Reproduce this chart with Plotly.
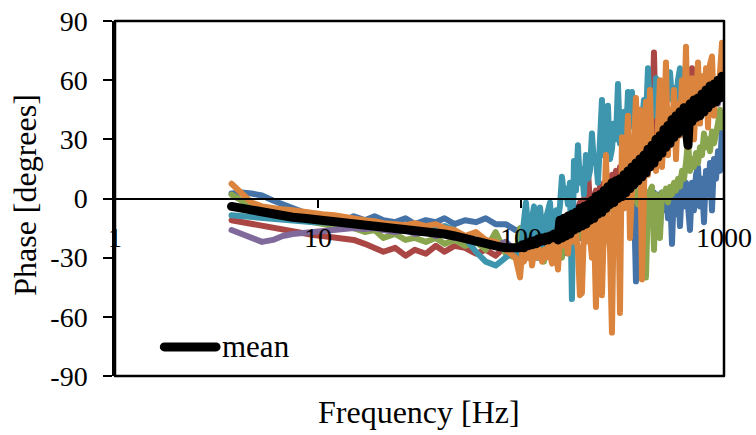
import plotly.graph_objects as go

# Measurement frequencies [Hz]
freq_hz = [3.75, 4.2, 4.7, 5.3, 6, 6.7, 7.5, 8.5, 9.5, 10.5, 12, 13.5, 15, 17, 19, 21, 24, 27, 30, 34,
           38, 42, 47, 53, 60, 67, 75, 84, 94,
           98.9, 101.1, 103.5, 105.8, 108.3, 110.8, 113.3, 115.9, 118.6, 121.3, 124.1, 126.9, 129.8,
           132.8, 135.9, 139.0, 142.2, 145.4, 148.8,
           152.2, 155.5, 159.1, 162.7, 166.4, 170.3, 174.2, 178.2, 182.3, 186.5, 190.7, 195.1, 199.6,
           204.2, 208.9, 213.7, 218.6, 223.6, 228.7, 234.0, 239.4, 244.9, 250.5, 256.2, 262.1, 268.1,
           274.3, 280.6, 287.0, 293.6, 300.4, 307.3, 314.3, 321.5, 328.9, 336.5, 344.2, 352.1, 360.2,
           368.4, 376.9, 385.5, 394.4, 403.4, 412.7, 422.2, 431.9, 441.8, 451.9, 462.3, 472.9, 483.7,
           494.8, 506.2, 517.8, 529.7, 541.9, 554.3, 567.0, 580.0, 593.4, 607.0, 620.9, 635.2, 649.8,
           664.7, 680.0, 695.6, 711.5, 727.9, 744.6, 761.7, 779.1, 797.0, 815.3, 834.0, 853.2, 872.8,
           892.8, 913.3, 934.3, 955.7, 977.7, 1000]

# Phase of each individual run [degrees]
phase_run1 = [2.5, 3, 2.5, 1.5, -1, -3, -5, -7, -8, -9, -10, -11, -9, -11, -9, -11, -12, -10, -13, -11,
              -12, -10, -13, -11, -12, -10, -13, -13, -16,
              -16, -18, -20, -17, -21, -19, -22, -18, -20, -23, -19, -21, -24, -20, -22, -25, -21, -23, -24,
              -25, -30, -22, -28, -20, -26, -18, -24, -16, -22,
              -14, -20, -12, -18, -10, -16, -8, -14, -6, -12,
              -5, -10, -3, -8, -2, -6, -1, -5, 0, -4,
              1, -3, 2, -2, 2, -4, 1, -3, 0, -42,
              -2, -8, 0, -10, 1, -6, 2, -12, 3, -8,
              2, -15, 3, -6, 4, -10, 5, -23, 5, -8,
              6, -14, 6, -4, 8, -10, -16, 8, -6, 12,
              16, -4, 10, -12, 14, 2, 18, -6, 20, 10,
              24, 14, 36, 30]

phase_run2 = [-11, -12, -12.5, -13.5, -15, -16, -17, -18, -18.5, -19, -19.5, -20, -21, -23, -25, -27,
              -25, -29, -26, -28, -24, -27, -24, -25, -28, -26, -29, -24, -27,
              -27, -24, -28, -22, -26, -20, -25, -22, -24, -18, -23, -20, -22, -16, -21, -18, -20, -15, -19,
              -18, -12, -20, -10, -16, -8, -14, -6, -12, -4,
              -10, -2, -8, 0, -6, 15, -4, 2, -6, 4,
              -2, 6, 0, 8, 2, 10, 4, 12, 6, 14,
              8, 16, 10, 18, 12, 20, 14, 22, 16, 24,
              18, 26, 20, 28, 22, 30, 24, 32, 74, 30,
              34, 28, 36, 30, 38, 32, 40, 34, 42, 36,
              44, 38, 46, 40, 48, 42, 50, 66, 48, 52,
              46, 54, 48, 55, 50, 56, 52, 58, 54, 58,
              56, 60, 58, 58]

phase_run3 = [2, -1, -4, -6, -8, -9, -10, -11, -12, -13, -14, -15, -15, -17, -16, -20, -18, -21, -20,
              -22, -20, -23, -21, -24, -22, -26, -17, -28, -30,
              -15, -24, -28, -22, -30, -25, -20, -28, -24, -30, -22, -26, -32, -24, -28, -22, -30, -26, -28,
              -28, -22, -30, -20, -26, -18, -24, -16, -22, -14,
              -20, -12, -18, -10, -16, -8, -14, -6, -12, -4,
              -10, -3, -9, -2, -8, 0, -6, 1, -5, 2,
              -4, 3, -3, 4, -2, 4, -2, 5, -1, 4,
              -3, 3, -6, 2, -40, 0, 4, 6, -26, 2,
              -4, -20, 3, 0, 5, -2, 6, 2, 8, 4,
              10, 6, 14, 10, 18, 29, 14, 20, 16, 23,
              18, 26, 22, 33, 26, 30, 24, 34, 28, 32,
              38, 45, 36, 42]

phase_run4 = [-16, -18, -20.5, -22, -21, -19, -18, -17.5, -17.5, -17, -16, -16, -15, -15.5, -15, -16,
              -17, -16, -18, -17, -19, -18, -20, -19, -22, -21, -24, -22, -26,
              -28, -24, -30, -25, -27, -23, -29, -24, -26, -22, -27, -23, -25, -21, -24, -20, -23, -19, -22,
              -20, -16, -22, -15, -19, -14, -20, -13, -17, -11,
              -16, -10, -15, -8, -13, -6, -12, -4, -10, -2,
              -9, 0, -7, 2, -5, 4, -3, 6, -1, 8,
              1, 7, 0, 9, 2, 11, 4, 13, 6, 16,
              8, 18, 11, 21, 14, 24, 16, 26, 19, 28,
              21, 30, 23, 32, 25, 34, 27, 36, 30, 39,
              33, 42, 35, 43, 37, 30, 41, 45, 39, 47,
              41, 48, 43, 50, 44, 51, 45, 52, 47, 53,
              48, 55, 51, 57]

phase_run5 = [-8.5, -9, -9.5, -10, -10.5, -11, -11, -11.5, -12, -12, -12.5, -13, -13, -14, -14, -13.5,
              -15, -14, -16, -14, -15, -14, -16, -20, -27, -32, -34, -30, -26,
              -30, -20, -8, -2, -15, -28, -10, -4, -20, -30, -4.5, -18, -26, -10, -6, -2, -22, -12, -6,
              -10, -4, 11, 2, 5, -3, 8, -51, 19, 4,
              27, 8, 15, 2, 22, 10, 14, 33, 18, 20,
              8, 25, 50, 22, 30, 47, 20, 25, 38, 30,
              58, 28, 35, 44, 30, 54, 38, 54, 36, 42,
              30, 45, 38, 50, 40, 66, 44, 50, 42, 61,
              46, 54, 44, 48, 52, 58, 64, 50, 56, 48,
              60, 66, 52, 58, 50, 56, 60, 52, 58, 54,
              62, 52, 57, 55, 60, 54, 58, 52, 60, 56,
              58, 55, 63, 61]

phase_run6 = [7.5, 3, -2, -4, -5, -5.5, -6, -7, -7.5, -8, -8.5, -9.5, -10, -11, -11.5, -12.5, -13,
              -13.5, -12.5, -14, -13, -15, -16, -19, -17, -21, -22, -26, -30,
              -40, -28, -32, -26, -30, -24, -34, -27, -30, -25, -28, -32, -26, -30, -24, -28, -33, -22, -30,
              -36, -18, -24, -12, -20, -28, -14, -22, -10, -18,
              -26, -49, -48, -16, -22, -8, -20, -30, -12, -55,
              -10, -20, -49, -5, 22, -15, -25, -68, 0, -12,
              10, -58, 31, -5, 15, 42, -20, 5, 25, 51,
              10, 45, -41, 20, 49, 12, 55, 18, 30, 14,
              40, 60, 16, 35, 69, 22, 45, 28, 55, 20,
              48, 32, 60, 38, 77, 26, 50, 61, 30, 55,
              69, 38, 62, 45, 66, 36, 68, 72, 42, 60,
              50, 64, 79, 52]

# Mean phase over all runs [degrees]
phase_mean = [-4, -5, -6, -7, -8, -9, -9.5, -10, -10.5, -11, -11.5, -12, -12.5, -13, -13.5, -14.5,
              -15, -15.5, -16, -17, -17.5, -18, -19, -20, -21.5, -23, -24, -25, -25,
              -25, -23.5, -25, -23, -24, -22, -23.5, -21.5, -23, -20.5, -22, -20, -21.5, -19.5, -21,
              -19, -20, -18, -19.5,
              -21, -11, -20, -10, -19, -9, -18, -8, -16, -7,
              -15, -5, -14, -4, -13, -3, -11, -1, -10, 1,
              -8, 2, -7, 4, -5, 6, -3, 8, -2, 9,
              0, 10, 1, 12, 3, 14, 5, 16, 7, 18,
              9, 20, 11, 22, 13, 25, 16, 27, 18, 30,
              21, 32, 23, 35, 26, 37, 28, 40, 31, 42,
              33, 44, 35, 46, 37, 27, 48, 39, 50, 41,
              51, 42, 53, 44, 55, 46, 57, 48, 58, 49,
              60, 51, 62, 55]

run_names = ["run 1", "run 2", "run 3", "run 4", "run 5", "run 6"]
run_colors = ["#4572A7", "#AA4643", "#89A54E", "#80699B", "#3D96AE", "#DB843D"]
run_values = [phase_run1, phase_run2, phase_run3, phase_run4, phase_run5, phase_run6]

x_tick_vals = [1, 10, 100, 1000]
x_tick_text = ["1", "10", "100", "1000"]
y_tick_vals = [-90, -60, -30, 0, 30, 60, 90]
y_tick_text = ["-90", "-60", "-30", "0", "30", "60", "90"]

for vals in run_values + [phase_mean]:
    assert len(vals) == len(freq_hz), (len(vals), len(freq_hz))

serif = "Liberation Serif, Times New Roman, serif"

fig = go.Figure()
for name, vals, color in zip(run_names, run_values, run_colors):
    fig.add_trace(go.Scatter(x=freq_hz, y=vals, mode="lines", name=name,
                             line=dict(color=color, width=6), showlegend=False,
                             hoverinfo="skip"))
fig.add_trace(go.Scatter(x=freq_hz, y=phase_mean, mode="lines", name="mean",
                         line=dict(color="black", width=9), showlegend=False))

fig.update_layout(
    width=756, height=435,
    margin=dict(l=115, r=32, t=21, b=59),
    paper_bgcolor="white", plot_bgcolor="white",
    font=dict(family=serif, size=28, color="black"),
    xaxis=dict(type="log", range=[0, 3], tickvals=x_tick_vals, ticktext=x_tick_text,
               showgrid=False, zeroline=False, showline=True, linecolor="black", linewidth=2,
               ticks="outside", ticklen=8, tickwidth=2, tickcolor="black",
               anchor="free", position=0.5, ticklabelstandoff=6, automargin=False),
    yaxis=dict(range=[-90, 90], tickvals=y_tick_vals, ticktext=y_tick_text,
               showgrid=False, zeroline=False, showline=True, linecolor="black", linewidth=2.5,
               ticks="outside", ticklen=9, tickwidth=2, tickcolor="black",
               ticklabelstandoff=10, automargin=False),
    shapes=[
        dict(type="rect", xref="paper", yref="paper", x0=0, x1=1, y0=0, y1=1,
             line=dict(color="black", width=2.5), layer="above"),
        dict(type="line", xref="paper", yref="paper", x0=0.081, x1=0.166, y0=0.082, y1=0.082,
             line=dict(color="black", width=9), layer="above"),
    ],
    annotations=[
        dict(text="Phase [degrees]", xref="paper", yref="paper", x=-0.148, y=0.51,
             textangle=-90, showarrow=False, xanchor="center", yanchor="middle",
             font=dict(family=serif, size=32, color="black")),
        dict(text="Frequency [Hz]", xref="paper", yref="paper", x=0.499, y=-0.101,
             showarrow=False, xanchor="center", yanchor="middle",
             font=dict(family=serif, size=32, color="black")),
        dict(text="mean", xref="paper", yref="paper", x=0.172, y=0.082,
             showarrow=False, xanchor="left", yanchor="middle",
             font=dict(family=serif, size=31, color="black")),
    ],
)

round_lines = (
    "document.querySelectorAll('.scatterlayer path.js-line, .shapelayer path')"
    ".forEach(function(p){p.style.strokeLinejoin='round';p.style.strokeLinecap='round';});"
)
fig.write_html("out.html", post_script=round_lines)
